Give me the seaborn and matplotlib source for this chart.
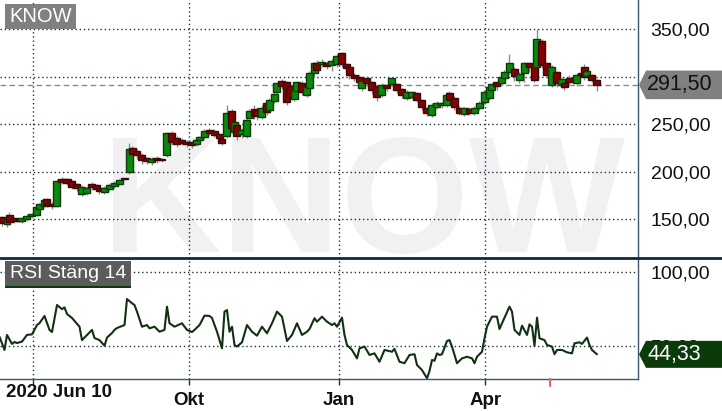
import numpy as np
import pandas as pd
import matplotlib
matplotlib.use("Agg")
import matplotlib.pyplot as plt
import seaborn as sns
from matplotlib.patches import Rectangle, Polygon
from matplotlib.lines import Line2D

# ---------------- data ----------------
session = [0, 2, 3, 5, 7, 8, 10, 12, 14, 15, 17, 18, 20, 22, 24, 26, 28, 30, 32, 34,
           36, 38, 39, 41, 43, 45, 47, 49, 51, 52, 54, 56, 58, 60, 62, 64, 66, 68, 70, 72,
           74, 76, 78, 79, 81, 83, 85, 87, 88, 90, 92, 93, 94, 96, 98, 99, 101, 102, 104, 106,
           107, 109, 110, 112, 114, 115, 117, 118, 120, 122, 123, 125, 126, 128, 130, 132, 134, 136, 138, 139,
           141, 143, 144, 146, 148, 150, 152, 154, 156, 158, 160, 162, 164, 166, 168, 170, 172, 174, 176, 178,
           179, 181, 183, 185, 187, 189, 191, 193, 195, 196, 198, 200, 201, 203, 205, 207, 209, 211, 213, 214,
           216, 218, 220, 222, 224, 225, 227, 230, 232, 233, 234, 236, 238]
open_ = [152, 145, 155, 151, 150, 148, 150, 153, 155, 161, 164, 171, 166, 164, 192, 192, 190, 187, 177, 178,
         187, 186, 183, 179, 182, 185, 187, 193, 200, 225, 222, 218, 215, 210, 215, 214, 218, 241, 236, 234,
         231, 231, 229, 234, 237, 244, 243, 240, 235, 238, 264, 242, 249, 240, 238, 257, 266, 264, 258, 272,
         265, 274, 284, 296, 294, 290, 277, 285, 293, 281, 288, 304, 314, 313, 315, 312, 313, 325, 313, 310,
         302, 300, 288, 299, 294, 290, 281, 291, 292, 292, 287, 278, 279, 283, 276, 267, 260, 268, 270, 270,
         283, 278, 267, 261, 266, 262, 267, 273, 278, 286, 294, 293, 299, 305, 308, 297, 304, 314, 312, 310,
         338, 314, 291, 305, 291, 293, 299, 293, 304, 310, 301, 302, 297]
high = [153, 152, 158, 152, 151, 152, 156, 157, 165, 167, 172, 172, 168, 192, 195, 193, 191, 188, 186, 185,
        189, 187, 184, 185, 188, 190, 192, 193, 230, 227, 224, 220, 216, 216, 217, 215, 242, 243, 238, 236,
        233, 232, 235, 238, 245, 246, 245, 241, 237, 270, 266, 254, 251, 246, 257, 266, 270, 268, 270, 275,
        278, 284, 295, 298, 296, 292, 289, 296, 296, 291, 306, 316, 318, 319, 317, 319, 324, 326, 314, 312,
        304, 302, 298, 301, 296, 292, 293, 292, 300, 293, 288, 286, 285, 284, 277, 268, 272, 274, 273, 284,
        285, 280, 269, 268, 268, 269, 274, 286, 290, 293, 296, 302, 307, 324, 310, 305, 316, 316, 314, 350,
        340, 316, 312, 306, 300, 294, 302, 304, 306, 313, 308, 303, 298]
low = [143, 142, 144, 146, 147, 146, 148, 151, 154, 159, 163, 163, 161, 163, 187, 186, 182, 180, 175, 176,
       181, 180, 177, 177, 180, 183, 186, 191, 198, 215, 213, 208, 208, 207, 209, 210, 216, 228, 226, 228,
       226, 225, 227, 232, 235, 239, 237, 233, 228, 236, 242, 240, 234, 236, 236, 256, 256, 255, 256, 260,
       262, 272, 282, 287, 270, 273, 275, 283, 281, 279, 286, 300, 304, 310, 308, 306, 310, 310, 302, 298,
       296, 292, 285, 290, 282, 275, 279, 285, 290, 283, 278, 276, 277, 273, 265, 259, 258, 266, 267, 268,
       274, 265, 260, 259, 260, 260, 265, 271, 276, 284, 286, 291, 297, 303, 296, 293, 295, 305, 294, 306,
       309, 299, 289, 289, 288, 286, 292, 290, 300, 297, 299, 295, 285]
close = [146, 150, 147, 148, 148, 151, 154, 156, 163, 166, 170, 165, 164, 190, 189, 188, 184, 183, 184, 183,
         184, 182, 180, 183, 186, 188, 191, 192, 224, 219, 218, 212, 211, 214, 212, 212, 241, 231, 229, 230,
         229, 228, 233, 237, 243, 241, 239, 236, 230, 262, 246, 252, 238, 244, 255, 264, 259, 260, 267, 263,
         276, 282, 293, 290, 273, 279, 287, 294, 284, 289, 304, 314, 307, 316, 311, 317, 322, 313, 309, 302,
         299, 295, 296, 293, 286, 279, 291, 288, 299, 286, 281, 284, 284, 276, 268, 262, 270, 272, 272, 281,
         276, 268, 262, 267, 262, 267, 272, 284, 289, 292, 290, 300, 305, 315, 301, 303, 314, 310, 297, 340,
         312, 302, 310, 293, 298, 289, 294, 302, 302, 300, 306, 297, 291.5]

rsi_session = [-1, 1, 2, 4, 5, 6, 8, 10, 12, 14, 15, 17, 19, 20, 22, 24, 25, 26, 28, 31,
               32, 34, 36, 37, 39, 41, 42, 44, 45, 46, 49, 50, 52, 53, 54, 56, 58, 59, 61, 63,
               65, 66, 67, 69, 72, 74, 76, 77, 79, 81, 83, 84, 86, 88, 89, 90, 91, 92, 93, 94,
               96, 98, 100, 102, 104, 106, 108, 110, 112, 114, 116, 118, 120, 122, 123, 125, 126, 128, 130, 132,
               133, 134, 136, 137, 138, 140, 142, 143, 145, 147, 149, 151, 153, 156, 157, 159, 161, 163, 165, 166,
               168, 170, 171, 172, 173, 174, 175, 176, 178, 179, 180, 181, 182, 184, 186, 188, 189, 190, 192, 193,
               194, 196, 198, 199, 200, 203, 204, 205, 207, 208, 210, 211, 212, 213, 214, 215, 217, 218, 220, 221,
               222, 224, 226, 228, 229, 231, 232, 234, 235, 236, 238]
rsi_value = [56.3, 47.3, 57.5, 51.4, 52.7, 52.0, 53.0, 57.5, 57.9, 64.2, 65.5, 70.4, 60.9, 59.5, 77.8, 75.0, 76.2, 71.7, 69.0, 63.1,
             54.0, 57.5, 60.9, 55.4, 54.0, 50.2, 55.7, 58.8, 60.9, 62.2, 64.2, 81.9, 79.0, 77.8, 73.3, 63.1, 64.2, 62.0, 63.1, 59.7,
             60.9, 76.7, 65.4, 63.1, 65.4, 60.9, 59.5, 60.9, 64.2, 70.6, 70.4, 69.0, 59.7, 48.4, 73.3, 74.4, 59.7, 63.1, 50.7, 49.6,
             52.5, 64.2, 59.7, 57.0, 63.1, 58.6, 65.4, 73.3, 69.9, 53.4, 57.5, 65.4, 57.5, 59.7, 61.5, 68.8, 66.5, 69.9, 66.5, 64.2,
             65.4, 63.1, 69.2, 57.5, 50.7, 47.3, 41.6, 48.4, 49.6, 43.9, 45.0, 39.3, 47.3, 46.1, 48.0, 39.3, 38.3, 43.9, 44.4, 37.1,
             33.7, 28.1, 33.0, 40.5, 40.0, 45.0, 43.9, 44.4, 53.4, 54.0, 49.6, 43.9, 38.3, 41.6, 42.7, 41.6, 38.3, 42.7, 46.1, 55.2,
             63.1, 69.9, 69.9, 61.5, 65.4, 76.7, 73.3, 60.9, 57.5, 63.8, 57.5, 64.7, 63.1, 50.2, 69.2, 55.2, 54.0, 50.7, 49.6, 44.4,
             47.3, 47.3, 45.7, 45.0, 51.8, 52.5, 51.4, 55.7, 50.7, 47.3, 44.33]

price_ticks = [150, 200, 250, 300, 350]
rsi_ticks = [50, 100]
grid_sessions = [12.5, 74.9, 134.9, 193.3]
month_labels = ["", "Okt", "Jan", "Apr"]
first_label = "2020 Jun 10"
marker_session = 219.2
ticker = "KNOW"
rsi_title = "RSI Stäng 14"
last_price = close[-1]
last_rsi = rsi_value[-1]

# ---------------- figure ----------------
sns.set_theme(style="white")
plt.rcParams["font.family"] = ["Liberation Sans", "DejaVu Sans"]

W, H = 722, 411
fig = plt.figure(figsize=(W / 100, H / 100), dpi=100)
fig.patch.set_facecolor("white")


def fx(px):
    return px / W


def fy(py):
    return 1 - py / H


ax_p = fig.add_axes([0, fy(258), fx(638), 258 / H])
ax_r = fig.add_axes([0, fy(379), fx(638), (379 - 258) / H])

XMIN, XMAX = -0.8, 254.4
grid_kw = dict(color="#1c3344", lw=1.0, ls=(0, (1, 2)), zorder=1)
border = "#3d5570"

fmt = lambda v: f"{v:.2f}".replace(".", ",")

# ---- price panel ----
ax_p.set_xlim(XMIN, XMAX)
ax_p.set_ylim(109.3, 380.8)
ax_p.text(0.5697, 0.023, ticker, transform=ax_p.transAxes, ha="center", va="baseline",
          fontsize=119, fontweight="bold", color="#f1f1f1", zorder=0)
for v in price_ticks:
    ax_p.axhline(v, **grid_kw)
for s in grid_sessions:
    ax_p.axvline(s, **grid_kw)
ax_p.axhline(last_price, color="#8a8a8a", lw=1.0, ls=(0, (4, 2.5)), zorder=1.5)

df = pd.DataFrame(dict(s=session, o=open_, h=high, l=low, c=close))
up = df["c"] >= df["o"]
ax_p.vlines(df["s"], df["l"], df["h"], color="#8c8c8c", lw=1.0, zorder=2)
bottoms = np.minimum(df["o"], df["c"])
heights = np.maximum(np.abs(df["c"] - df["o"]), 0.8)
ax_p.bar(df["s"], heights, bottom=bottoms, width=2.8,
         color=np.where(up, "#0a8a0a", "#850000"),
         edgecolor=np.where(up, "#0b3b0b", "#3a0a0a"), linewidth=1.0, zorder=3)

ax_p.yaxis.tick_right()
ax_p.set_yticks(price_ticks)
ax_p.set_yticklabels([fmt(v) for v in price_ticks])
ax_p.tick_params(axis="y", length=0, pad=9, labelsize=14, labelcolor="#111111")
ax_p.set_xticks([])
for sp in ["left", "top", "bottom"]:
    ax_p.spines[sp].set_visible(False)
ax_p.spines["right"].set_color(border)
ax_p.spines["right"].set_linewidth(1.0)
ax_p.set_facecolor("none")

# ---- RSI panel ----
ax_r.set_xlim(XMIN, XMAX)
ax_r.set_ylim(27.6, 109.7)
for v in rsi_ticks:
    ax_r.axhline(v, **grid_kw)
for s in grid_sessions:
    ax_r.axvline(s, **grid_kw)
rdf = pd.DataFrame(dict(s=rsi_session, v=rsi_value))
sns.lineplot(data=rdf, x="s", y="v", ax=ax_r, color="#123012", lw=1.5, estimator=None, zorder=3)
ax_r.set_xlabel("")
ax_r.set_ylabel("")
ax_r.yaxis.tick_right()
ax_r.set_yticks(rsi_ticks)
ax_r.set_yticklabels([fmt(v) for v in rsi_ticks])
ax_r.tick_params(axis="y", length=0, pad=9, labelsize=14, labelcolor="#111111")
ax_r.set_xticks(grid_sessions)
ax_r.set_xticklabels(month_labels)
ax_r.tick_params(axis="x", direction="out", length=4, width=1, color="#1c3344", pad=5,
                 labelsize=13.5, bottom=True)
for lab in ax_r.get_xticklabels():
    lab.set_fontweight("bold")
    lab.set_color("#111111")
for sp in ["left", "top"]:
    ax_r.spines[sp].set_visible(False)
for sp in ["right", "bottom"]:
    ax_r.spines[sp].set_color(border)
    ax_r.spines[sp].set_linewidth(1.0)
ax_r.set_facecolor("none")

fig.text(fx(6), fy(384), first_label, ha="left", va="top", fontsize=13.5,
         fontweight="bold", color="#111111")

# marker tick below RSI panel
mx = ax_r.transData.transform((marker_session, 0))[0] / W
fig.lines.append(Line2D([mx, mx], [fy(379), fy(386)], transform=fig.transFigure,
                        color="#ff5c5c", lw=1.5))

# separator between panels
fig.lines.append(Line2D([0, 1], [fy(258), fy(258)], transform=fig.transFigure,
                        color="#0d2b3a", lw=2.0))

# title boxes
fig.patches.append(Rectangle((fx(5), fy(29)), 71 / W, 25 / H, transform=fig.transFigure,
                             facecolor="#808080", edgecolor="none"))
fig.text(fx(40.5), fy(17), ticker, ha="center", va="center", fontsize=14.5, color="white")
fig.patches.append(Rectangle((fx(5), fy(287)), 126 / W, 26 / H, transform=fig.transFigure,
                             facecolor="#5c5c5c", edgecolor="none"))
fig.patches.append(Rectangle((fx(5), fy(288)), 126 / W, 2 / H, transform=fig.transFigure,
                             facecolor="#0b3d0b", edgecolor="none"))
fig.text(fx(68), fy(274), rsi_title, ha="center", va="center", fontsize=14, color="white")


# value boxes
def value_box(ax, value, face, tcolor, half):
    yc = ax.transData.transform((0, value))[1]  # pixels from bottom
    pts = [(639, yc), (646, yc + half), (722, yc + half), (722, yc - half), (646, yc - half)]
    pts = [(x / W, y / H) for x, y in pts]
    fig.patches.append(Polygon(pts, closed=True, transform=fig.transFigure,
                               facecolor=face, edgecolor="none"))
    fig.text(fx(647), yc / H, fmt(value), ha="left", va="center", fontsize=15.5, color=tcolor)


value_box(ax_p, last_price, "#808080", "#111111", 14.3)
value_box(ax_r, last_rsi, "#0b3a0b", "white", 13.5)

fig.savefig("out.png", dpi=100)
